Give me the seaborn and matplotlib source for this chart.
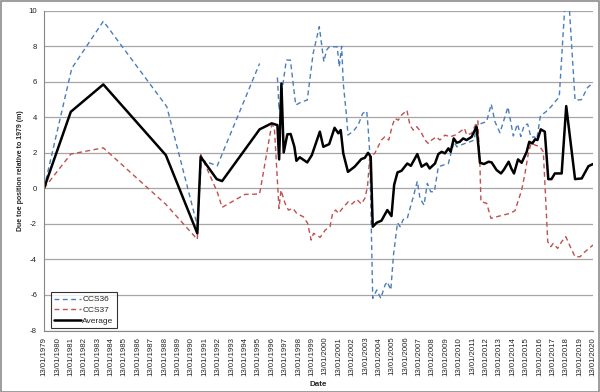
import numpy as np
import pandas as pd
import matplotlib
matplotlib.use("Agg")
import matplotlib.pyplot as plt
import seaborn as sns
from matplotlib.patches import Rectangle

# ---- data (decimal year, metres) ----
avg_x = [1979.0, 1981.0, 1983.43, 1988.1, 1990.45, 1990.7, 1991.9, 1992.3, 1995.1, 1996.0,
         1996.43, 1996.56, 1996.73, 1996.9, 1997.17, 1997.42, 1997.7, 1997.85, 1998.1, 1998.66,
         1999.0, 1999.6, 1999.86, 2000.3, 2000.7, 2000.98, 2001.16, 2001.35, 2001.7, 2002.2,
         2002.7, 2002.96, 2003.2, 2003.4, 2003.55, 2003.85, 2004.2, 2004.64, 2004.95, 2005.15,
         2005.4, 2005.7, 2006.13, 2006.4, 2006.88, 2007.2, 2007.57, 2007.8, 2008.2, 2008.45,
         2008.7, 2008.94, 2009.2, 2009.37, 2009.6, 2009.82, 2010.05, 2010.3, 2010.56, 2010.94,
         2011.24, 2011.3, 2011.56, 2011.86, 2012.2, 2012.43, 2012.8, 2013.13, 2013.36, 2013.7,
         2013.9, 2014.1, 2014.4, 2014.67, 2015.05, 2015.24, 2015.47, 2015.67, 2015.85, 2016.1,
         2016.4, 2016.66, 2016.9, 2017.15, 2017.66, 2018.0, 2018.66, 2019.16, 2019.66, 2020.0]
avg_y = [0.0, 4.31, 5.85, 1.87, -2.53, 1.78, 0.52, 0.41, 3.32, 3.66,
         3.56, 1.63, 5.9, 2.02, 3.04, 3.06, 2.34, 1.55, 1.75, 1.46,
         1.87, 3.19, 2.34, 2.49, 3.41, 3.1, 3.28, 1.97, 0.93, 1.22,
         1.65, 1.72, 2.0, 1.78, -2.16, -1.93, -1.82, -1.22, -1.56, 0.2,
         0.9, 0.99, 1.4, 1.27, 1.93, 1.22, 1.4, 1.12, 1.4, 1.93,
         2.06, 1.97, 2.25, 2.06, 2.81, 2.57, 2.62, 2.81, 2.72, 2.9,
         3.38, 3.47, 1.44, 1.37, 1.5, 1.46, 1.03, 0.84, 1.07, 1.5,
         1.12, 0.84, 1.63, 1.44, 2.06, 2.62, 2.53, 2.76, 2.72, 3.32,
         3.19, 0.52, 0.52, 0.84, 0.84, 4.63, 0.52, 0.56, 1.25, 1.37]

ccs36_x = [1979.0, 1981.07, 1983.43, 1988.17, 1990.45, 1990.75, 1991.94, 1995.1,
           1996.43, 1996.56, 1997.1, 1997.4, 1997.8, 1998.24, 1998.66, 1999.1, 1999.56, 1999.9,
           2000.1, 2000.3, 2000.6, 2000.9, 2001.05, 2001.23, 2001.35, 2001.6, 2001.7, 2002.1,
           2002.46, 2002.8, 2003.1, 2003.2, 2003.33, 2003.55, 2003.85, 2004.15, 2004.47, 2004.64,
           2004.9, 2005.1, 2005.4, 2005.6, 2005.83, 2006.13, 2006.3, 2006.58, 2006.88, 2007.08,
           2007.38, 2007.63, 2007.88, 2008.15, 2008.45, 2008.82, 2009.2, 2009.45, 2009.65, 2009.82,
           2010.15, 2010.44, 2010.8, 2011.13, 2011.3, 2011.68, 2012.05, 2012.4, 2012.68, 2013.05,
           2013.65, 2014.05, 2014.36, 2014.61, 2014.86, 2015.12, 2015.37, 2015.62, 2015.8, 2016.07,
           2016.45, 2016.85, 2017.48, 2017.9, 2018.22, 2018.66, 2019.13, 2019.6, 2020.0]
ccs36_y = [0.0, 6.75, 9.41, 4.6, -2.1, 1.6, 1.27, 7.03,
           6.24, 4.4, 7.22, 7.22, 4.69, 4.87, 4.97, 7.6, 9.1, 7.13,
           7.78, 7.97, 7.97, 7.97, 6.84, 8.0, 5.9, 4.03, 3.0, 3.22,
           3.56, 4.22, 4.35, 3.47, 1.97, -6.19, -5.72, -6.19, -5.44, -5.26,
           -5.72, -3.75, -1.93, -2.16, -1.75, -1.69, -1.22, -0.47, 0.4, -0.56,
           -0.94, 0.28, -0.19, -0.19, 1.22, 1.31, 1.4, 2.16, 2.62, 2.34,
           2.44, 2.53, 2.62, 2.72, 3.56, 3.66, 3.75, 4.74, 3.75, 3.13,
           4.58, 2.95, 3.62, 2.92, 3.55, 3.62, 2.87, 2.9, 2.75, 4.08,
           4.29, 4.58, 5.16, 10.3, 10.3, 4.97, 4.99, 5.68, 5.94]
ccs36_seg = [0] * 8 + [1] * 79   # gap in the survey record 1995-1996

ccs37_x = [1979.0, 1981.0, 1983.43, 1988.1, 1990.45, 1990.7, 1991.94, 1992.3, 1994.0, 1995.1,
           1996.0, 1996.2, 1996.55, 1996.7, 1997.0, 1997.25, 1997.6, 1997.87, 1998.37, 1998.69,
           1998.95, 1999.13, 1999.62, 2000.0, 2000.36, 2000.55, 2000.78, 2001.0, 2001.28, 2001.73,
           2002.0, 2002.36, 2002.7, 2002.96, 2003.16, 2003.33, 2003.7, 2004.2, 2004.45, 2004.75,
           2005.0, 2005.2, 2005.46, 2005.7, 2006.1, 2006.33, 2006.58, 2006.83, 2007.15, 2007.45,
           2007.7, 2007.95, 2008.3, 2008.57, 2008.95, 2009.32, 2009.7, 2010.07, 2010.4, 2010.57,
           2010.94, 2011.25, 2011.4, 2011.56, 2011.63, 2012.06, 2012.38, 2012.8, 2013.3, 2013.8,
           2014.17, 2014.43, 2014.67, 2014.92, 2015.17, 2015.37, 2015.67, 2016.04, 2016.29, 2016.47,
           2016.62, 2016.85, 2017.03, 2017.36, 2017.66, 2017.97, 2018.3, 2018.66, 2019.03, 2019.4,
           2020.0]
ccs37_y = [0.0, 1.93, 2.28, -0.9, -2.87, 1.9, -0.2, -1.07, -0.34, -0.32,
           3.56, 3.47, -1.13, -0.1, -0.84, -1.22, -1.13, -1.41, -1.6, -1.97,
           -2.91, -2.53, -2.76, -2.35, -2.16, -1.41, -1.22, -1.41, -1.13, -0.75,
           -0.88, -0.62, -0.88, -0.56, 0.09, 1.78, 1.97, 2.72, 2.9, 2.72,
           3.5, 3.94, 3.84, 4.12, 4.4, 3.56, 3.28, 3.47, 3.19, 2.72,
           2.53, 2.72, 2.9, 2.72, 3.0, 2.9, 3.0, 3.19, 3.38, 3.0,
           3.1, 3.62, 3.8, 1.22, -0.75, -0.84, -1.69, -1.6, -1.5, -1.41,
           -1.26, -0.66, -0.1, 0.84, 1.97, 2.53, 2.44, 2.34, 2.06, -0.66,
           -3.0, -3.28, -3.1, -3.38, -3.0, -2.72, -3.28, -3.85, -3.85, -3.57,
           -3.19]

years = list(range(1979, 2021))
tick_labels = [f"13/01/{y}" for y in years]
y_ticks = [-8, -6, -4, -2, 0, 2, 4, 6, 8, 10]

# ---- figure ----
sns.set_theme(style="white")
plt.rcParams["font.family"] = ["Liberation Sans", "DejaVu Sans"]

fig = plt.figure(figsize=(6.0, 3.92), dpi=100)
ax = fig.add_axes([44 / 600, 1 - 330.5 / 392, 549 / 600, 319.8 / 392])

df36 = pd.DataFrame({"x": ccs36_x, "y": ccs36_y, "seg": ccs36_seg})
df37 = pd.DataFrame({"x": ccs37_x, "y": ccs37_y})
dfa = pd.DataFrame({"x": avg_x, "y": avg_y})

blue = "#4a7ebb"
red = "#c0504d"
dash = (0, (3.5, 2.5))
sns.lineplot(data=df36, x="x", y="y", units="seg", estimator=None, sort=False,
             color=blue, lw=1.0, ax=ax, linestyle=dash, label="CCS36")
sns.lineplot(data=df37, x="x", y="y", estimator=None, sort=False,
             color=red, lw=1.0, ax=ax, linestyle=dash, label="CCS37")
sns.lineplot(data=dfa, x="x", y="y", estimator=None, sort=False,
             color="black", lw=1.8, ax=ax, label="Average")

ax.set_xlim(1979, 2020)
ax.set_ylim(-8, 10)
ax.set_xticks(years)
ax.set_xticklabels(tick_labels, rotation=90, fontsize=5.6, color="#222222")
ax.set_yticks(y_ticks)
ax.set_yticklabels([str(v) for v in y_ticks], fontsize=5.6, color="#222222")
ax.yaxis.grid(True, color="#a6a6a6", lw=0.9)
ax.xaxis.grid(False)
for s in ["top", "right"]:
    ax.spines[s].set_visible(False)
for s in ["left", "bottom"]:
    ax.spines[s].set_color("#868686")
    ax.spines[s].set_linewidth(0.8)
ax.tick_params(axis="x", direction="out", length=3, width=0.7, color="#868686", pad=1.5)
ax.tick_params(axis="y", direction="out", length=3, width=0.7, color="#868686", pad=2)
ax.set_xlabel("Date", fontsize=5.8, fontweight="bold", labelpad=4)
ax.set_ylabel("Due toe position relative to 1979 (m)", fontsize=5.0,
              fontweight="bold", labelpad=3.5)

handles, labels = ax.get_legend_handles_labels()
uniq = {}
for h, l in zip(handles, labels):
    if l not in uniq:
        uniq[l] = h
leg = ax.legend(list(uniq.values()), list(uniq.keys()),
                loc="lower left", bbox_to_anchor=(0.012, 0.007), borderaxespad=0,
                fontsize=6, frameon=True, fancybox=False, handlelength=3.2,
                handletextpad=0.2, labelspacing=0.35, borderpad=0.4)
leg.get_frame().set_edgecolor("black")
leg.get_frame().set_linewidth(0.8)

fig.patches.append(Rectangle((0.5 / 600, 0.5 / 392), 598.5 / 600, 390.5 / 392,
                             transform=fig.transFigure, fill=False,
                             edgecolor="#8c8c8c", lw=1.2))

fig.savefig("out.png", dpi=100)
